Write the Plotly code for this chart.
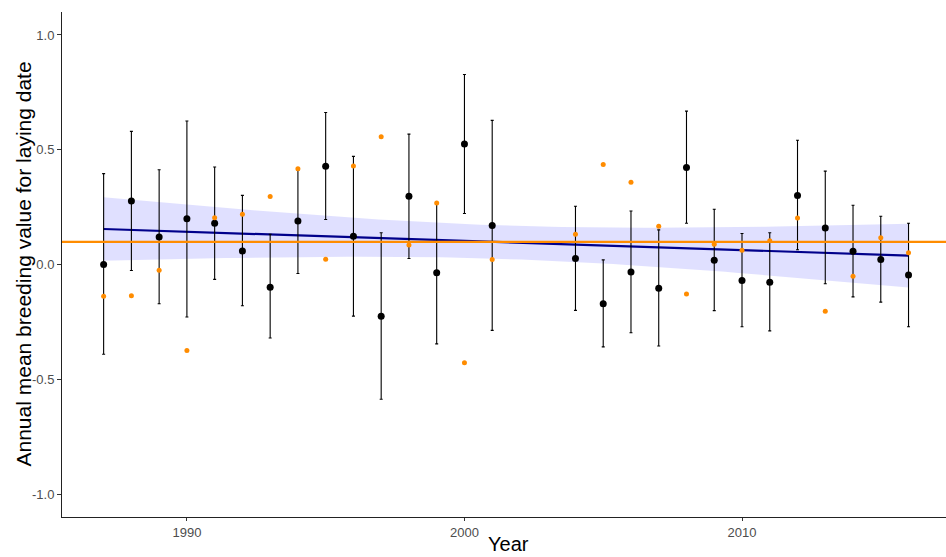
import numpy as np
import plotly.graph_objects as go

# Years with data (no sampling in 2002-2003)
years = [1987, 1988, 1989, 1990, 1991, 1992, 1993, 1994, 1995, 1996,
         1997, 1998, 1999, 2000, 2001, 2004, 2005, 2006, 2007, 2008,
         2009, 2010, 2011, 2012, 2013, 2014, 2015, 2016]

# Annual mean breeding value (black) with interval limits
bv_mean = [0.000, 0.277, 0.120, 0.199, 0.180, 0.059, -0.099, 0.190, 0.428, 0.123,
           -0.225, 0.297, -0.036, 0.525, 0.170, 0.026, -0.171, -0.033, -0.103, 0.423,
           0.019, -0.070, -0.077, 0.301, 0.159, 0.058, 0.022, -0.046]
bv_upper = [0.396, 0.580, 0.413, 0.625, 0.425, 0.301, 0.132, 0.412, 0.662, 0.471,
            0.138, 0.568, 0.268, 0.828, 0.628, 0.254, 0.020, 0.233, 0.151, 0.668,
            0.241, 0.135, 0.138, 0.541, 0.407, 0.258, 0.210, 0.180]
bv_lower = [-0.391, -0.026, -0.171, -0.229, -0.065, -0.180, -0.320, -0.039, 0.196, -0.225,
            -0.587, 0.026, -0.346, 0.222, -0.287, -0.200, -0.359, -0.297, -0.355, 0.180,
            -0.201, -0.271, -0.289, 0.064, -0.084, -0.141, -0.164, -0.271]

# Second series (orange points)
alt_mean = [-0.138, -0.136, -0.025, -0.375, 0.204, 0.219, 0.296, 0.417, 0.023, 0.429,
            0.557, 0.085, 0.268, -0.428, 0.022, 0.132, 0.436, 0.358, 0.167, -0.128,
            0.088, 0.062, 0.103, 0.203, -0.204, -0.051, 0.117, 0.051]

y_ticks = [-1.0, -0.5, 0.0, 0.5, 1.0]
x_ticks = [1990, 2000, 2010]

x = np.array(years, dtype=float)
y = np.array(bv_mean)
n = len(x)

# Linear fit with 95% confidence band
slope, intercept = np.polyfit(x, y, 1)
resid = y - (intercept + slope * x)
s = np.sqrt(np.sum(resid ** 2) / (n - 2))
sxx = np.sum((x - x.mean()) ** 2)
t_crit = 2.056  # t quantile, 26 df
xg = np.linspace(x.min(), x.max(), 80)
yg = intercept + slope * xg
se = s * np.sqrt(1.0 / n + (xg - x.mean()) ** 2 / sxx)
upper = yg + t_crit * se
lower = yg - t_crit * se

alt_level = float(np.mean(alt_mean))

fig = go.Figure()

fig.add_trace(go.Scatter(
    x=np.concatenate([xg, xg[::-1]]), y=np.concatenate([upper, lower[::-1]]),
    fill="toself", fillcolor="rgba(0,0,255,0.12)", line=dict(width=0),
    mode="lines", hoverinfo="skip", showlegend=False))

fig.add_trace(go.Scatter(
    x=xg, y=yg, mode="lines", line=dict(color="#00008B", width=2.2),
    showlegend=False))

fig.add_shape(type="line", xref="paper", x0=0, x1=1, yref="y",
              y0=alt_level, y1=alt_level,
              line=dict(color="#FF8C00", width=2.2), layer="above")

err_plus = [u - m for u, m in zip(bv_upper, bv_mean)]
err_minus = [m - l for m, l in zip(bv_mean, bv_lower)]

fig.add_trace(go.Scatter(
    x=years, y=bv_mean, mode="markers",
    marker=dict(color="black", size=7),
    error_y=dict(type="data", symmetric=False, array=err_plus,
                 arrayminus=err_minus, color="black", thickness=1.1, width=1.5),
    showlegend=False))

fig.add_trace(go.Scatter(
    x=years, y=alt_mean, mode="markers",
    marker=dict(color="#FF8C00", size=5),
    showlegend=False))

font_family = "Liberation Sans, Arial, sans-serif"
axis_font = dict(family=font_family, size=13, color="#4D4D4D")
title_font = dict(family=font_family, size=21, color="black")

fig.update_layout(
    width=946, height=557,
    margin=dict(l=62, r=0, t=12, b=40),
    paper_bgcolor="white", plot_bgcolor="white",
    xaxis=dict(range=[1985.5, 2017.35], tickvals=x_ticks,
               ticks="outside", ticklen=3, tickcolor="#333333",
               showline=True, linecolor="#222222", linewidth=1,
               showgrid=False, zeroline=False, tickfont=axis_font),
    yaxis=dict(range=[-1.1, 1.1], tickvals=y_ticks,
               ticktext=[f"{v:.1f}" for v in y_ticks],
               ticks="outside", ticklen=4, tickcolor="#333333",
               showline=True, linecolor="#222222", linewidth=1,
               showgrid=False, zeroline=False, tickfont=axis_font),
    annotations=[
        dict(text="Annual mean breeding value for laying date",
             xref="paper", yref="paper", x=(23 - 62) / 884, y=0.5,
             xanchor="center", yanchor="middle", textangle=-90,
             showarrow=False, font=title_font),
        dict(text="Year",
             xref="paper", yref="paper", x=(508 - 62) / 884, y=(517 - 557) / 505,
             xanchor="center", yanchor="bottom",
             showarrow=False, font=dict(family=font_family, size=20, color="black")),
    ],
)

fig.write_html("out.html")
